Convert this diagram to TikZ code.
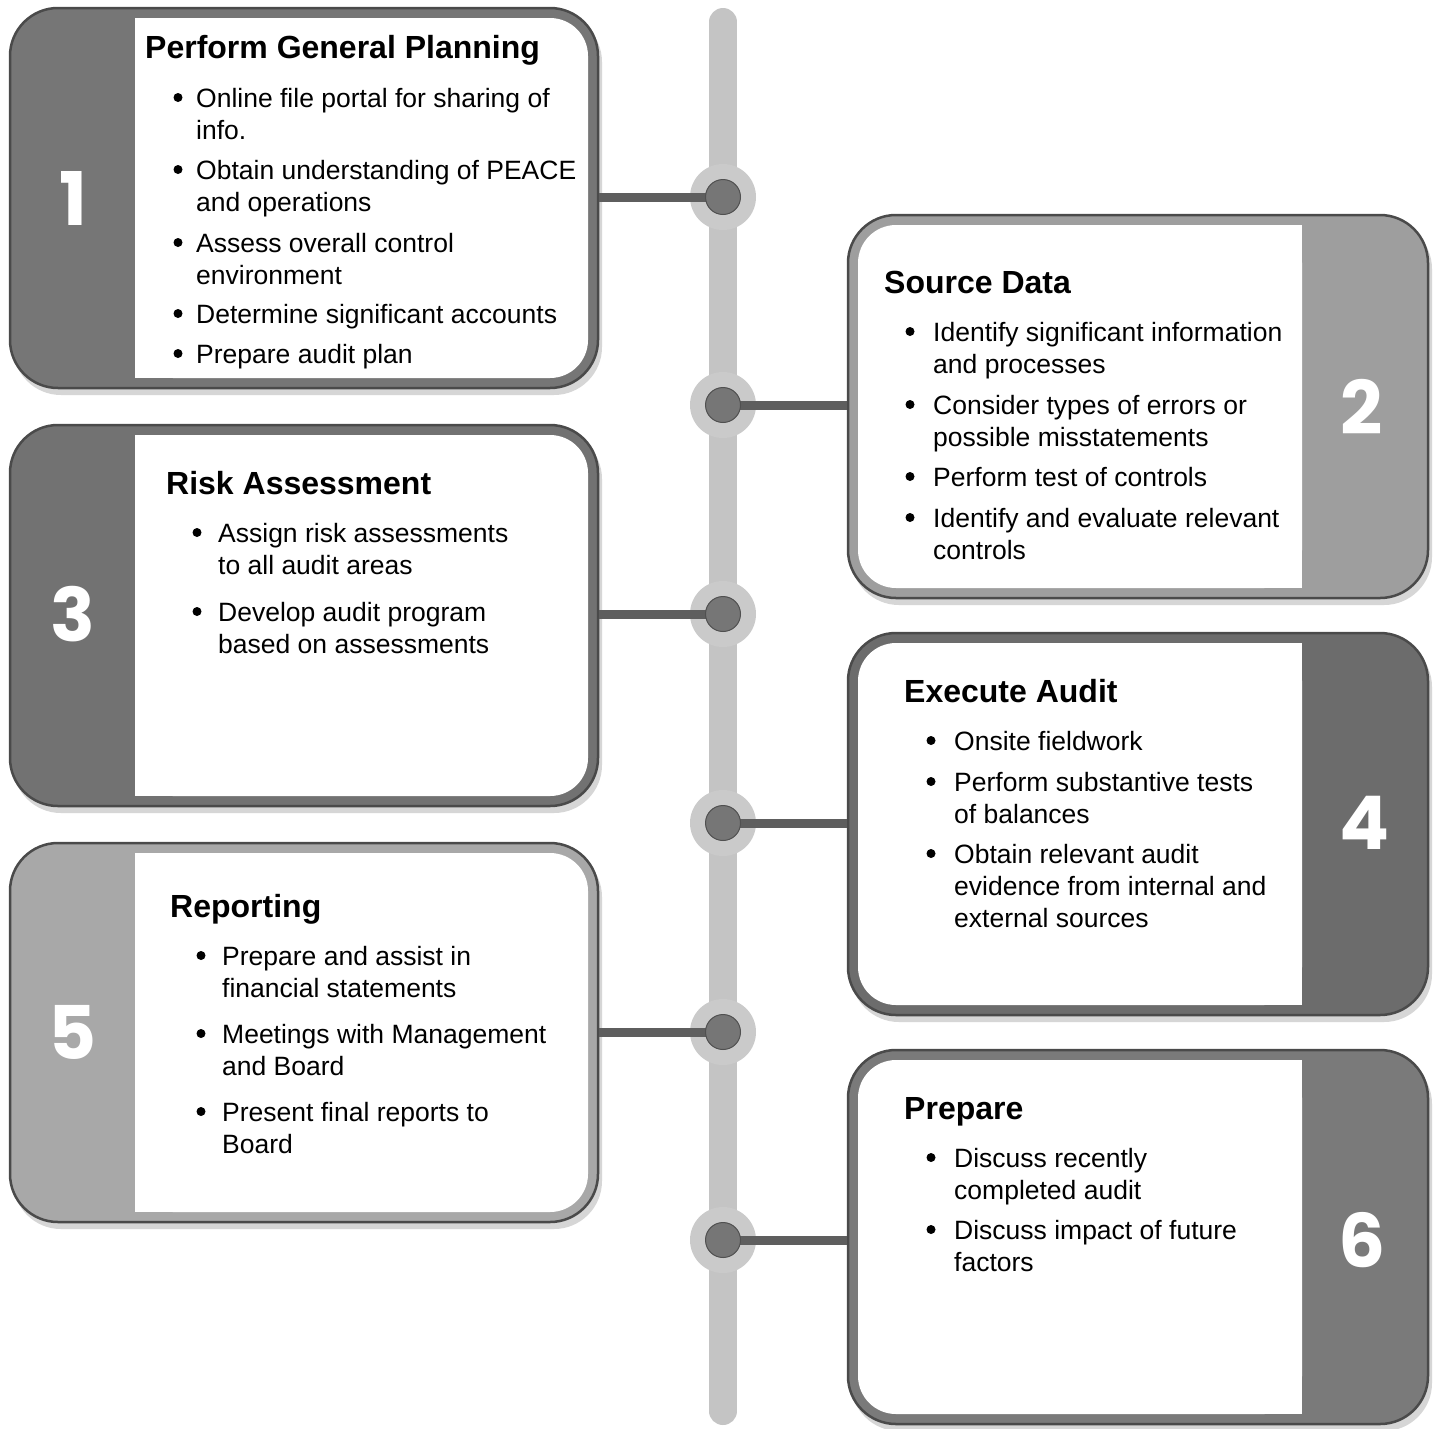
\documentclass[tikz,border=0pt]{standalone}
\usepackage{fontspec}
\setmainfont{Liberation Sans}
\newfontfamily\numfont{Poppins}
\definecolor{barc}{HTML}{C4C4C4}
\definecolor{haloc}{HTML}{CACACA}
\definecolor{dotc}{HTML}{767676}
\definecolor{dotl}{HTML}{505050}
\definecolor{connc}{HTML}{5E5E5E}
\definecolor{cardline}{HTML}{4A4A4A}
\definecolor{shadowc}{HTML}{D6D6D6}
\definecolor{gA}{HTML}{767676}
\definecolor{gB}{HTML}{9E9E9E}
\definecolor{gC}{HTML}{727272}
\definecolor{gD}{HTML}{6C6C6C}
\definecolor{gE}{HTML}{A8A8A8}
\definecolor{gF}{HTML}{7A7A7A}
\tikzset{
  cardbox/.style={draw=cardline, line width=2.5pt, rounded corners=48pt, inner sep=0pt},
  ttl/.style={font=\fontsize{32}{36}\selectfont\bfseries, anchor=base west, inner sep=0pt},
  body/.style={font=\fontsize{26.5}{32}\selectfont, anchor=base west, inner sep=0pt},
  bdot/.style={circle, fill=black, minimum size=9pt, inner sep=0pt},
  num/.style={font=\numfont\bfseries\fontsize{74}{80}\selectfont, text=white, inner sep=0pt},
  halo/.style={circle, fill=haloc, minimum size=66pt, inner sep=0pt},
  dot/.style={circle, fill=dotc, draw=dotl, line width=1pt, minimum size=35pt, inner sep=0pt},
  conn/.style={draw=connc, line width=9pt},
  bar/.style={draw=barc, line width=28pt, line cap=round}
}
% left card: name, top, bottom, colour
\newcommand{\cardL}[4]{%
  \fill[shadowc, rounded corners=48pt] (13,{#2+6}) rectangle (602,{#3+7});
  \node[cardbox, fill=#4, minimum width=588pt, minimum height={(#3-#2)*1pt}] (#1) at (304,{(#2+#3)/2}) {};
  \fill[white, rounded corners=38pt] (135,{#2+10}) rectangle (588,{#3-10});
  \fill[white] (135,{#2+10}) rectangle (220,{#3-10});
}
% right card: name, top, bottom, colour
\newcommand{\cardR}[4]{%
  \fill[shadowc, rounded corners=48pt] (851,{#2+6}) rectangle (1432,{#3+7});
  \node[cardbox, fill=#4, minimum width=580pt, minimum height={(#3-#2)*1pt}] (#1) at (1138,{(#2+#3)/2}) {};
  \fill[white, rounded corners=38pt] (858,{#2+10}) rectangle (1302,{#3-10});
  \fill[white] (1220,{#2+10}) rectangle (1302,{#3-10});
}
\newcommand{\txtline}[4]{\node[body] (#1) at (#2,#3) {#4};}
\newcommand{\bul}[3]{\node[bdot] (#1) at (#2,{#3-9.5}) {};}
\begin{document}
\begin{tikzpicture}[x=1pt,y=-1pt]
\useasboundingbox (0,0) rectangle (1437,1428);
\fill[white] (0,0) rectangle (1437,1428);
% timeline
\draw[bar] (723,22) -- (723,1411);
\node[halo] (h1) at (723,197) {};
\node[halo] (h2) at (723,405) {};
\node[halo] (h3) at (723,614) {};
\node[halo] (h4) at (723,823) {};
\node[halo] (h5) at (723,1032) {};
\node[halo] (h6) at (723,1240) {};
% cards
\cardL{c1}{8}{388}{gA}
\cardR{c2}{215}{598}{gB}
\cardL{c3}{425}{806}{gC}
\cardR{c4}{633}{1015}{gD}
\cardL{c5}{843}{1222}{gE}
\cardR{c6}{1050}{1424}{gF}
% connectors
\coordinate (p1) at (723,197);
\coordinate (p2) at (723,405);
\coordinate (p3) at (723,614);
\coordinate (p4) at (723,823);
\coordinate (p5) at (723,1032);
\coordinate (p6) at (723,1240);
\draw[conn] (c1.east |- p1) -- (p1);
\draw[conn] (p2) -- (c2.west |- p2);
\draw[conn] (c3.east |- p3) -- (p3);
\draw[conn] (p4) -- (c4.west |- p4);
\draw[conn] (c5.east |- p5) -- (p5);
\draw[conn] (p6) -- (c6.west |- p6);
% dots
\node[dot] (d1) at (p1) {};
\node[dot] (d2) at (p2) {};
\node[dot] (d3) at (p3) {};
\node[dot] (d4) at (p4) {};
\node[dot] (d5) at (p5) {};
\node[dot] (d6) at (p6) {};
% numbers
\node[num] (n1) at (73,198) {1};
\node[num] (n2) at (1362,407) {2};
\node[num] (n3) at (73,614) {3};
\node[num] (n4) at (1365,823) {4};
\node[num] (n5) at (73,1032) {5};
\node[num] (n6) at (1362,1240) {6};
% card 1
\node[ttl] (t1) at (145,58) {Perform General Planning};
\bul{b1a}{178}{107}\txtline{l1a}{196}{107}{Online file portal for sharing of}
\txtline{l1b}{196}{139}{info.}
\bul{b1b}{178}{179}\txtline{l1c}{196}{179}{Obtain understanding of PEACE}
\txtline{l1d}{196}{211}{and operations}
\bul{b1c}{178}{252}\txtline{l1e}{196}{252}{Assess overall control}
\txtline{l1f}{196}{284}{environment}
\bul{b1d}{178}{323}\txtline{l1g}{196}{323}{Determine significant accounts}
\bul{b1e}{178}{363}\txtline{l1h}{196}{363}{Prepare audit plan}
% card 2
\node[ttl] (t2) at (884,293) {Source Data};
\bul{b2a}{910}{341}\txtline{l2a}{933}{341}{Identify significant information}
\txtline{l2b}{933}{373}{and processes}
\bul{b2b}{910}{414}\txtline{l2c}{933}{414}{Consider types of errors or}
\txtline{l2d}{933}{446}{possible misstatements}
\bul{b2c}{910}{486}\txtline{l2e}{933}{486}{Perform test of controls}
\bul{b2d}{910}{527}\txtline{l2f}{933}{527}{Identify and evaluate relevant}
\txtline{l2g}{933}{559}{controls}
% card 3
\node[ttl] (t3) at (166,494) {Risk Assessment};
\bul{b3a}{197}{542}\txtline{l3a}{218}{542}{Assign risk assessments}
\txtline{l3b}{218}{574}{to all audit areas}
\bul{b3b}{197}{621}\txtline{l3c}{218}{621}{Develop audit program}
\txtline{l3d}{218}{653}{based on assessments}
% card 4
\node[ttl] (t4) at (904,702) {Execute Audit};
\bul{b4a}{931}{750}\txtline{l4a}{954}{750}{Onsite fieldwork}
\bul{b4b}{931}{791}\txtline{l4b}{954}{791}{Perform substantive tests}
\txtline{l4c}{954}{823}{of balances}
\bul{b4c}{931}{863}\txtline{l4d}{954}{863}{Obtain relevant audit}
\txtline{l4e}{954}{895}{evidence from internal and}
\txtline{l4f}{954}{927}{external sources}
% card 5
\node[ttl] (t5) at (170,917) {Reporting};
\bul{b5a}{201}{965}\txtline{l5a}{222}{965}{Prepare and assist in}
\txtline{l5b}{222}{997}{financial statements}
\bul{b5b}{201}{1043}\txtline{l5c}{222}{1043}{Meetings with Management}
\txtline{l5d}{222}{1075}{and Board}
\bul{b5c}{201}{1121}\txtline{l5e}{222}{1121}{Present final reports to}
\txtline{l5f}{222}{1153}{Board}
% card 6
\node[ttl] (t6) at (904,1119) {Prepare};
\bul{b6a}{931}{1167}\txtline{l6a}{954}{1167}{Discuss recently}
\txtline{l6b}{954}{1199}{completed audit}
\bul{b6b}{931}{1239}\txtline{l6c}{954}{1239}{Discuss impact of future}
\txtline{l6d}{954}{1271}{factors}
\end{tikzpicture}
\end{document}
